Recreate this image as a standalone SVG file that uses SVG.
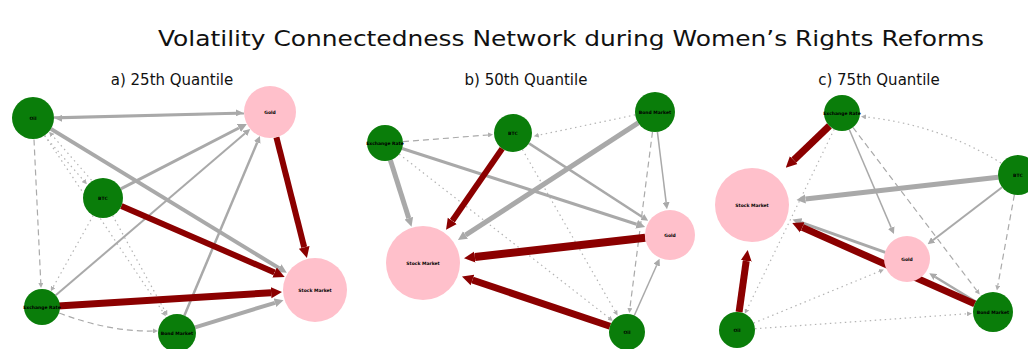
<svg xmlns="http://www.w3.org/2000/svg" width="1028" height="349" viewBox="0 0 1028 349">
<style>
.title{font-family:"DejaVu Sans","Liberation Sans",sans-serif;fill:#111}
.lbl{font-family:"DejaVu Sans","Liberation Sans",sans-serif;font-size:4.5px;font-weight:bold;fill:#000;text-anchor:middle;dominant-baseline:central}
.gn{fill:#0a7d0a}
.pn{fill:#ffc0cb}
.r{stroke:#8b0000;fill:none}
.s{stroke:#a9a9a9;fill:none}
.dt{stroke:#b4b4b4;fill:none;stroke-width:1.2;stroke-dasharray:1.5 3.5}
.ds{stroke:#aaaaaa;fill:none;stroke-width:1.2;stroke-dasharray:6 4}
</style>
<defs>
<marker id="hr" viewBox="0 0 10 10" refX="0" refY="5" markerUnits="userSpaceOnUse" markerWidth="11" markerHeight="13" orient="auto"><path d="M0,0L10,5L0,10z" fill="#8b0000"/></marker>
<marker id="hgb" viewBox="0 0 10 10" refX="0" refY="5" markerUnits="userSpaceOnUse" markerWidth="9" markerHeight="10" orient="auto"><path d="M0,0L10,5L0,10z" fill="#a9a9a9"/></marker>
<marker id="hgs" viewBox="0 0 10 10" refX="0" refY="5" markerUnits="userSpaceOnUse" markerWidth="7" markerHeight="7" orient="auto"><path d="M0,0L10,5L0,10z" fill="#a9a9a9"/></marker>
<marker id="ht" viewBox="0 0 10 10" refX="0" refY="5" markerUnits="userSpaceOnUse" markerWidth="5" markerHeight="5" orient="auto"><path d="M0,0L10,5L0,10z" fill="#b0b0b0"/></marker>
</defs>
<rect width="1028" height="349" fill="#fff"/>
<text class="title" x="571" y="46" font-size="21" text-anchor="middle" textLength="826" lengthAdjust="spacingAndGlyphs">Volatility Connectedness Network during Women’s Rights Reforms</text>
<text class="title" x="172" y="85" font-size="15" text-anchor="middle">a) 25th Quantile</text>
<text class="title" x="526" y="85" font-size="15" text-anchor="middle">b) 50th Quantile</text>
<text class="title" x="879" y="85" font-size="15" text-anchor="middle">c) 75th Quantile</text>
<g id="connectors">
<!-- panel a -->
<path class="dt" d="M44.5,135.8L83.6,180.4" marker-end="url(#ht)"/>
<path class="dt" d="M91.5,180.2L52.4,135.6" marker-end="url(#ht)"/>
<path class="dt" d="M44.7,135.4L163.1,312.2" marker-end="url(#ht)"/>
<path class="dt" d="M112.6,215.5L165,311.1" marker-end="url(#ht)"/>
<path class="dt" d="M93.2,215.5L53.2,286.9" marker-end="url(#ht)"/>
<path class="ds" d="M34,139.5L40.8,283" marker-end="url(#ht)"/>
<path class="ds" d="M59,313Q110,332 153,331" marker-end="url(#ht)"/>
<path class="s" stroke-width="2.5" d="M54,117.5L236,112.9" marker-end="url(#hgs)"/>
<path class="s" stroke-width="2" d="M244,113.5L62,118.3" marker-end="url(#hgs)"/>
<path class="s" stroke-width="4" d="M50.9,128.9L279.1,268.1" marker-end="url(#hgb)"/>
<path class="s" stroke-width="3" d="M120.8,188.8L238.9,128" marker-end="url(#hgb)"/>
<path class="s" stroke-width="2" d="M55.7,295.3L244.9,133.5" marker-end="url(#hgs)"/>
<path class="s" stroke-width="2.5" d="M184.4,315.5L257.2,142.5" marker-end="url(#hgs)"/>
<path class="s" stroke-width="4" d="M195.1,327.3L274.9,302.8" marker-end="url(#hgb)"/>
<path class="r" stroke-width="6" d="M276.4,137.2L304.2,247.3" marker-end="url(#hr)"/>
<path class="r" stroke-width="6" d="M121.3,206L274.6,272.5" marker-end="url(#hr)"/>
<path class="r" stroke-width="7" d="M58,306L271.1,292.7" marker-end="url(#hr)"/>
<!-- panel b -->
<path class="ds" d="M403,141.6L488,135" marker-end="url(#ht)"/>
<path class="dt" d="M635.2,114.9L538.7,135.2" marker-end="url(#ht)"/>
<path class="ds" d="M652.5,131.8L629.9,308.1" marker-end="url(#ht)"/>
<path class="dt" d="M522.4,149.5L615.1,311.2" marker-end="url(#ht)"/>
<path class="dt" d="M399.2,154.1L608.9,317.8" marker-end="url(#ht)"/>
<path class="s" stroke-width="5" d="M390.4,160.2L408.8,218.2" marker-end="url(#hgb)"/>
<path class="s" stroke-width="5" d="M638.2,122.9L465.5,235.1" marker-end="url(#hgb)"/>
<path class="s" stroke-width="3" d="M402.1,148.5L636.6,224.2" marker-end="url(#hgb)"/>
<path class="s" stroke-width="2.5" d="M529,143.4L642.3,217" marker-end="url(#hgs)"/>
<path class="s" stroke-width="1.5" d="M657.4,131.9L666.1,202.2" marker-end="url(#hgs)"/>
<path class="s" stroke-width="1.5" d="M634.3,315.5L656.7,265.2" marker-end="url(#hgs)"/>
<path class="r" stroke-width="6" d="M502.2,148.6L452.3,220.8" marker-end="url(#hr)"/>
<path class="r" stroke-width="8" d="M645.2,237.8L474.9,257" marker-end="url(#hr)"/>
<path class="r" stroke-width="7" d="M610,326.2L472.4,280" marker-end="url(#hr)"/>
<!-- panel c -->
<path class="dt" d="M1001,163Q940,125 866,117" marker-end="url(#ht)"/>
<path class="ds" d="M852.9,127.3L976.7,290.5" marker-end="url(#ht)"/>
<path class="ds" d="M1014.4,194.7L997.8,285.5" marker-end="url(#ht)"/>
<path class="dt" d="M753.6,323.1L879.3,271.4" marker-end="url(#ht)"/>
<path class="dt" d="M755,328.7L967,313.8" marker-end="url(#ht)"/>
<path class="dt" d="M834.2,129.2L747,309.3" marker-end="url(#ht)"/>
<path class="s" stroke-width="5" d="M998.1,177.2L805.4,199" marker-end="url(#hgb)"/>
<path class="s" stroke-width="2" d="M1002.1,187.2L933.2,240" marker-end="url(#hgs)"/>
<path class="s" stroke-width="1.5" d="M849.3,129.5L891.2,227.6" marker-end="url(#hgs)"/>
<path class="s" stroke-width="3" d="M885.3,252.3L801,222.4" marker-end="url(#hgb)"/>
<path class="s" stroke-width="2.5" d="M975.9,301.7L935.3,277" marker-end="url(#hgs)"/>
<path class="r" stroke-width="7" d="M829.4,125.9L793.7,160.1" marker-end="url(#hr)"/>
<path class="r" stroke-width="7" d="M974.7,303.9L802.3,227.4" marker-end="url(#hr)"/>
<path class="r" stroke-width="7" d="M739.1,312.1L746.2,260.9" marker-end="url(#hr)"/>
</g>
<!-- panel a nodes -->
<g id="a-oil"><circle class="gn" cx="33" cy="118" r="21"/><text class="lbl" x="33" y="118">Oil</text></g>
<g id="a-gold"><circle class="pn" cx="270" cy="112" r="26"/><text class="lbl" x="270" y="112">Gold</text></g>
<g id="a-btc"><circle class="gn" cx="103" cy="198" r="20"/><text class="lbl" x="103" y="198">BTC</text></g>
<g id="a-stock"><circle class="pn" cx="315" cy="290" r="32"/><text class="lbl" x="315" y="290">Stock Market</text></g>
<g id="a-fx"><circle class="gn" cx="42" cy="307" r="18"/><text class="lbl" x="42" y="307">Exchange Rate</text></g>
<g id="a-bond"><circle class="gn" cx="177" cy="333" r="19"/><text class="lbl" x="177" y="333">Bond Market</text></g>
<!-- panel b nodes -->
<g id="b-fx"><circle class="gn" cx="385" cy="143" r="18"/><text class="lbl" x="385" y="143">Exchange Rate</text></g>
<g id="b-btc"><circle class="gn" cx="513" cy="133" r="19"/><text class="lbl" x="513" y="133">BTC</text></g>
<g id="b-bond"><circle class="gn" cx="655" cy="112" r="20"/><text class="lbl" x="655" y="112">Bond Market</text></g>
<g id="b-stock"><circle class="pn" cx="423" cy="263" r="37"/><text class="lbl" x="423" y="263">Stock Market</text></g>
<g id="b-gold"><circle class="pn" cx="670" cy="235" r="25"/><text class="lbl" x="670" y="235">Gold</text></g>
<g id="b-oil"><circle class="gn" cx="627" cy="332" r="18"/><text class="lbl" x="627" y="332">Oil</text></g>
<!-- panel c nodes -->
<g id="c-fx"><circle class="gn" cx="842" cy="113" r="18"/><text class="lbl" x="842" y="113">Exchange Rate</text></g>
<g id="c-btc"><circle class="gn" cx="1018" cy="175" r="20"/><text class="lbl" x="1018" y="175">BTC</text></g>
<g id="c-stock"><circle class="pn" cx="752" cy="205" r="37"/><text class="lbl" x="752" y="205">Stock Market</text></g>
<g id="c-gold"><circle class="pn" cx="907" cy="259" r="23"/><text class="lbl" x="907" y="259">Gold</text></g>
<g id="c-bond"><circle class="gn" cx="993" cy="312" r="20"/><text class="lbl" x="993" y="312">Bond Market</text></g>
<g id="c-oil"><circle class="gn" cx="737" cy="330" r="18"/><text class="lbl" x="737" y="330">Oil</text></g>
</svg>
